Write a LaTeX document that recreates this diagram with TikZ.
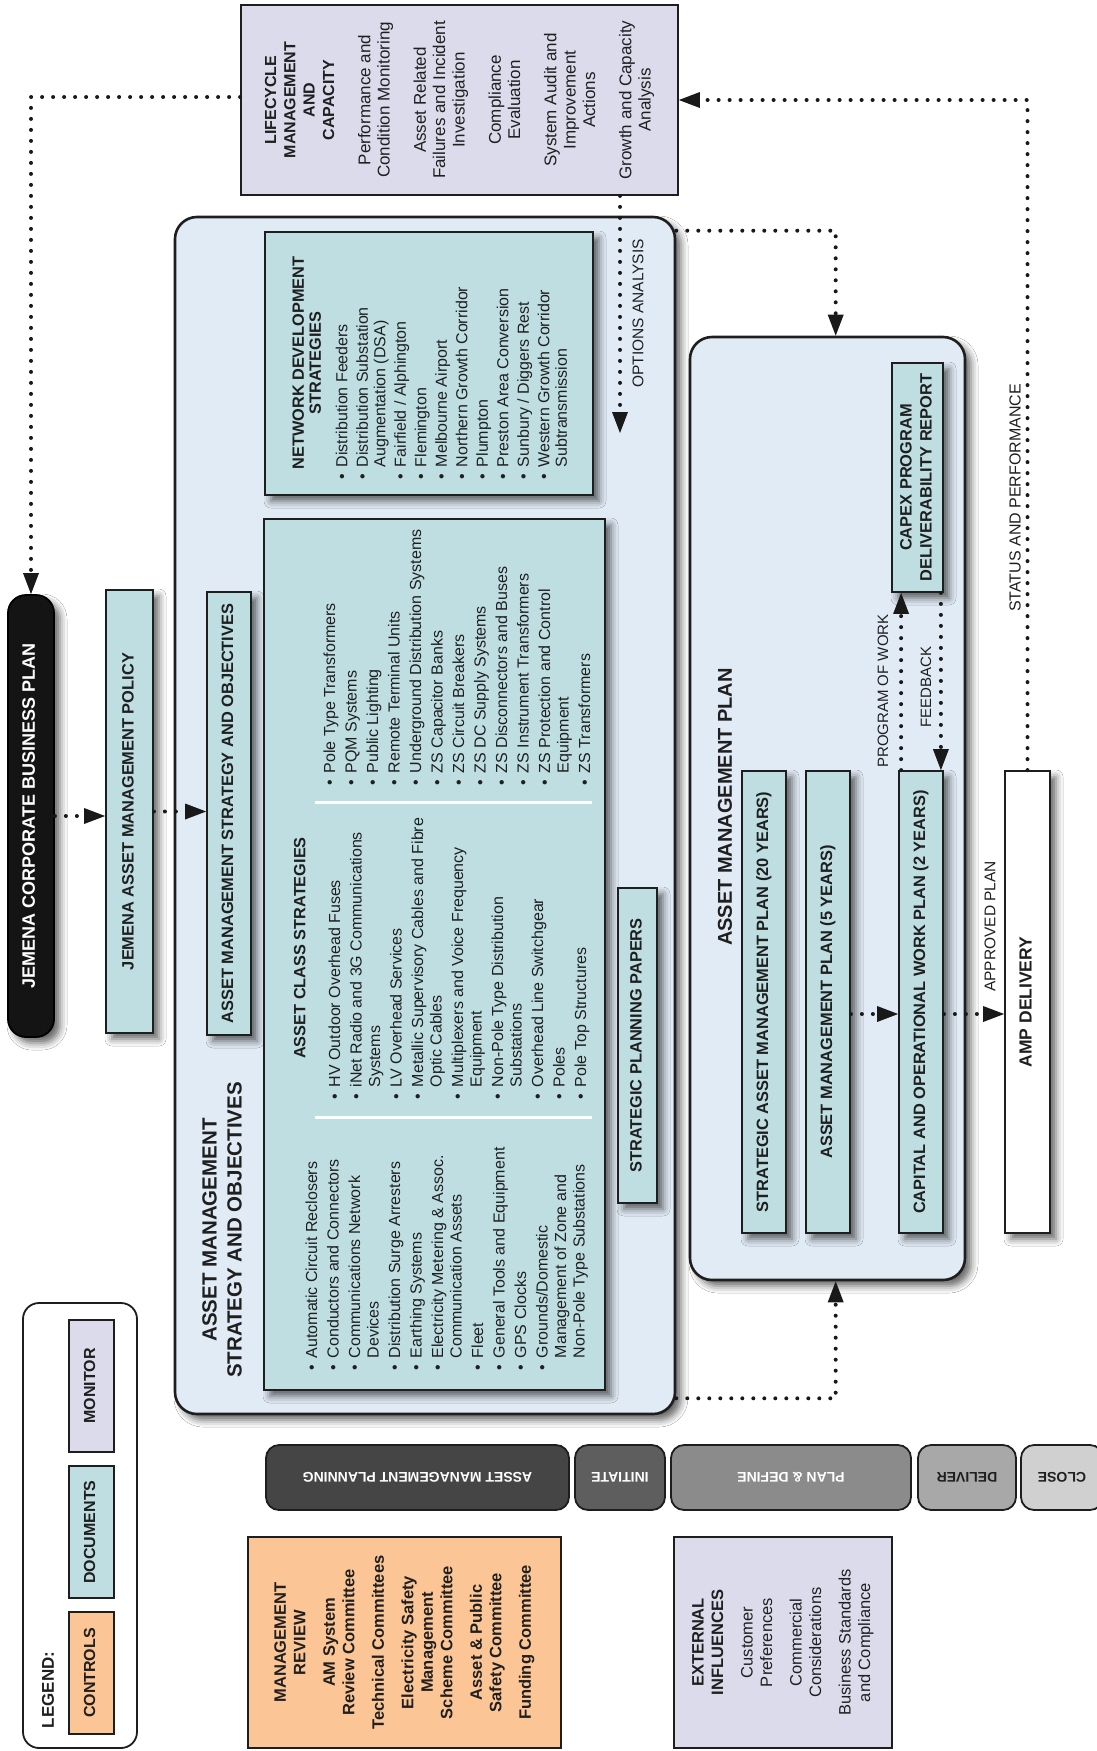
\documentclass[tikz,border=0pt]{standalone}
\usepackage{fontspec}
\setmainfont{Liberation Sans}
\usepackage{graphicx}
\usetikzlibrary{arrows.meta,shadows.blur,calc}
\definecolor{docteal}{HTML}{BEDEE2}
\definecolor{contblue}{HTML}{E1EBF5}
\definecolor{monpurple}{HTML}{DCDBEC}
\definecolor{ctrlorange}{HTML}{FCC596}
\definecolor{edgec}{HTML}{1E1E1E}
\definecolor{phA}{HTML}{454545}
\definecolor{phB}{HTML}{5E5E5E}
\definecolor{phC}{HTML}{8B8B8B}
\definecolor{phD}{HTML}{A8A8A8}
\definecolor{phE}{HTML}{D0D0D0}
\newcommand{\rtx}[1]{\rotatebox{90}{\begin{tabular}{@{}c@{}}#1\end{tabular}}}
\newcommand{\rlist}[1]{\rotatebox{90}{\begin{tabular}{@{}l@{\hspace{7pt}}l@{}}#1\end{tabular}}}
\newcommand{\rflip}[1]{\rotatebox{180}{#1}}
\newcommand{\bul}{\textbullet}
\begin{document}
\begin{tikzpicture}[x=1pt,y=-1pt,
  shad/.style={blur shadow={shadow xshift=6pt,shadow yshift=-6pt,shadow blur radius=7pt,shadow opacity=60}},
  docbox/.style={draw=edgec,line width=1.8pt,fill=docteal,inner sep=0pt,shad,text=black!88,font=\bfseries\fontsize{16.4}{20}\selectfont},
  contbox/.style={draw=edgec,line width=2.6pt,fill=contblue,rounded corners=22pt,inner sep=0pt,shad},
  corpbox/.style={draw=black,line width=1.8pt,fill=black!92,rounded corners=18pt,inner sep=0pt,shad,text=white,font=\bfseries\fontsize{18}{20}\selectfont},
  monbox/.style={draw=edgec,line width=1.8pt,fill=monpurple,inner sep=0pt,text=black!88},
  ctrlbox/.style={draw=edgec,line width=1.8pt,fill=ctrlorange,inner sep=0pt,text=black!88},
  phasebox/.style={draw=edgec,line width=1.8pt,rounded corners=13pt,inner sep=0pt,minimum height=65pt,font=\bfseries\fontsize{14}{18}\selectfont},
  swatch/.style={draw=edgec,line width=1.6pt,inner sep=0pt,minimum width=45pt,text=black!88,font=\bfseries\fontsize{16}{18}\selectfont},
  listtext/.style={inner sep=0pt,text=black!88,font=\fontsize{16}{18.5}\selectfont},
  titletext/.style={inner sep=0pt,text=black!88,font=\bfseries\fontsize{16.3}{17}\selectfont},
  lbl/.style={inner sep=0pt,text=black!88,font=\fontsize{15.5}{18}\selectfont},
  dotl/.style={draw=black!90,line width=4pt,line cap=round,dash pattern=on 0pt off 11pt},
  arr/.style={dotl,-{Triangle[length=21pt,width=16pt,line width=0pt]}}
]
\fill[white] (0,0) rectangle (1097,1751);
\useasboundingbox (0,0) rectangle (1097,1751);

% monitor box (top)
\node[monbox,minimum width=437pt,minimum height=190pt,font=\fontsize{17}{19.3}\selectfont] (lcm) at (459.5,100)
 {\rtx{{\bfseries\fontsize{16}{19.3}\selectfont LIFECYCLE}\\ {\bfseries\fontsize{16}{19.3}\selectfont MANAGEMENT}\\ {\bfseries\fontsize{16}{19.3}\selectfont AND}\\ {\bfseries\fontsize{16}{19.3}\selectfont CAPACITY}\\[17pt]
 Performance and\\ Condition Monitoring\\[17pt]
 Asset Related\\ Failures and Incident\\ Investigation\\[17pt]
 Compliance\\ Evaluation\\[17pt]
 System Audit and\\ Improvement\\ Actions\\[17pt]
 Growth and Capacity\\ Analysis}};

% left column
\node[corpbox,minimum width=46pt,minimum height=442pt] (corp) at (31,816) {\rtx{JEMENA CORPORATE BUSINESS PLAN}};
\node[docbox,minimum width=47pt,minimum height=443pt] (pol) at (129.5,811.5) {\rtx{JEMENA ASSET MANAGEMENT POLICY}};

% strategy container
\node[contbox,minimum width=500pt,minimum height=1197pt] (amso) at (425,815.5) {};
\node[docbox,minimum width=44pt,minimum height=443pt] (amsobj) at (229,813.5) {\rtx{ASSET MANAGEMENT STRATEGY AND OBJECTIVES}};
\node[inner sep=0pt,text=black!88,font=\bfseries\fontsize{20.5}{25}\selectfont] (amsot) at (224,1230) {\rtx{ASSET MANAGEMENT\\ STRATEGY AND OBJECTIVES}};

% network development strategies
\node[docbox,minimum width=328pt,minimum height=263pt] (nds) at (429,363.5) {};
\node[titletext] (ndst) at (309,363) {\rtx{NETWORK DEVELOPMENT\\ STRATEGIES}};
\node[listtext,font=\fontsize{16}{17.5}\selectfont,anchor=south west] (ndsl) at (335,480)
 {\rlist{\bul & Distribution Feeders\\[3pt] \bul & Distribution Substation\\ & Augmentation (DSA)\\[3pt] \bul & Fairfield / Alphington\\[3pt] \bul & Flemington\\[3pt] \bul & Melbourne Airport\\[3pt] \bul & Northern Growth Corridor\\[3pt] \bul & Plumpton\\[3pt] \bul & Preston Area Conversion\\[3pt] \bul & Sunbury / Diggers Rest\\[3pt] \bul & Western Growth Corridor\\ & Subtransmission}};

% asset class strategies
\node[docbox,minimum width=341pt,minimum height=871pt] (acs) at (434.5,954.5) {};
\node[titletext] (acst) at (302,948) {\rtx{ASSET CLASS STRATEGIES}};
\draw[white,line width=3pt] (315,802) -- (592,802);
\draw[white,line width=3pt] (315,1117) -- (592,1117);
\node[listtext,anchor=south west] (acsa) at (304,1371)
 {\rlist{\bul & Automatic Circuit Reclosers\\[3pt] \bul & Conductors and Connectors\\[3pt] \bul & Communications Network\\ & Devices\\[3pt] \bul & Distribution Surge Arresters\\[3pt] \bul & Earthing Systems\\[3pt] \bul & Electricity Metering \& Assoc.\\ & Communication Assets\\[3pt] \bul & Fleet\\[3pt] \bul & General Tools and Equipment\\[3pt] \bul & GPS Clocks\\[3pt] \bul & Grounds/Domestic\\ & Management of Zone and\\ & Non-Pole Type Substations}};
\node[listtext,anchor=south west] (acsb) at (327,1100)
 {\rlist{\bul & HV Outdoor Overhead Fuses\\[3pt] \bul & iNet Radio and 3G Communications\\ & Systems\\[3pt] \bul & LV Overhead Services\\[3pt] \bul & Metallic Supervisory Cables and Fibre\\ & Optic Cables\\[3pt] \bul & Multiplexers and Voice Frequency\\ & Equipment\\[3pt] \bul & Non-Pole Type Distribution\\ & Substations\\[3pt] \bul & Overhead Line Switchgear\\[3pt] \bul & Poles\\[3pt] \bul & Pole Top Structures}};
\node[listtext,anchor=south west] (acsc) at (322,786)
 {\rlist{\bul & Pole Type Transformers\\[3pt] \bul & PQM Systems\\[3pt] \bul & Public Lighting\\[3pt] \bul & Remote Terminal Units\\[3pt] \bul & Underground Distribution Systems\\[3pt] \bul & ZS Capacitor Banks\\[3pt] \bul & ZS Circuit Breakers\\[3pt] \bul & ZS DC Supply Systems\\[3pt] \bul & ZS Disconnectors and Buses\\[3pt] \bul & ZS Instrument Transformers\\[3pt] \bul & ZS Protection and Control\\ & Equipment\\[3pt] \bul & ZS Transformers}};
\node[docbox,minimum width=39pt,minimum height=315pt] (spp) at (637.5,1045.5) {\rtx{STRATEGIC PLANNING PAPERS}};

% asset management plan container
\node[contbox,minimum width=275pt,minimum height=943pt] (ampc) at (827.5,808.5) {};
\node[inner sep=0pt,text=black!88,font=\bfseries\fontsize{20}{24}\selectfont] (ampt) at (727,807) {\rtx{ASSET MANAGEMENT PLAN}};
\node[docbox,minimum width=51pt,minimum height=229pt] (capex) at (917.5,477.5) {\rtx{CAPEX PROGRAM\\ DELIVERABILITY REPORT}};
\node[docbox,minimum width=44pt,minimum height=462pt] (samp) at (764,1002) {\rtx{STRATEGIC ASSET MANAGEMENT PLAN (20 YEARS)}};
\node[docbox,minimum width=44pt,minimum height=462pt] (amp5) at (828,1002) {\rtx{ASSET MANAGEMENT PLAN (5 YEARS)}};
\node[docbox,minimum width=44pt,minimum height=462pt] (cwp) at (921,1002) {\rtx{CAPITAL AND OPERATIONAL WORK PLAN (2 YEARS)}};
\node[docbox,fill=white,minimum width=45pt,minimum height=462pt,font=\bfseries\fontsize{17.5}{20}\selectfont] (deliv) at (1027.5,1002) {\rtx{AMP DELIVERY}};

% phase bar
\node[phasebox,fill=phA,text=white,minimum width=303pt] (pamp) at (417.5,1477.5) {\rflip{ASSET MANAGEMENT PLANNING}};
\node[phasebox,fill=phB,text=white,minimum width=90pt] (pinit) at (620,1477.5) {\rflip{INITIATE}};
\node[phasebox,fill=phC,text=white,minimum width=240pt] (pdef) at (791,1477.5) {\rflip{PLAN \& DEFINE}};
\node[phasebox,fill=phD,text=black!88,minimum width=98pt] (pdel) at (967,1477.5) {\rflip{DELIVER}};
\node[phasebox,fill=phE,text=black!88,minimum width=82pt] (pclose) at (1062,1477.5) {\rflip{CLOSE}};

% legend
\node[draw=edgec,line width=1.8pt,fill=white,rounded corners=16pt,minimum width=114pt,minimum height=445pt,inner sep=0pt] (leg) at (80,1525.5) {};
\node[inner sep=0pt,text=black!88,font=\bfseries\fontsize{17}{20}\selectfont] (legt) at (50,1690) {\rtx{LEGEND:}};
\node[swatch,fill=ctrlorange,minimum height=122pt] (lc) at (91.5,1673) {\rtx{CONTROLS}};
\node[swatch,fill=docteal,minimum height=132pt] (ld) at (91.5,1532) {\rtx{DOCUMENTS}};
\node[swatch,fill=monpurple,minimum height=132pt] (lm) at (91.5,1386) {\rtx{MONITOR}};

% bottom boxes
\node[ctrlbox,minimum width=313pt,minimum height=211pt,font=\bfseries\fontsize{16.5}{19.5}\selectfont] (mgmt) at (404.5,1642.5)
 {\rtx{MANAGEMENT\\ REVIEW\\[10pt] AM System\\ Review Committee\\[10pt] Technical Committees\\[10pt] Electricity Safety\\ Management\\ Scheme Committee\\[10pt] Asset \& Public\\ Safety Committee\\[10pt] Funding Committee}};
\node[monbox,minimum width=218pt,minimum height=211pt,font=\fontsize{16.5}{19.5}\selectfont] (ext) at (783,1642.5)
 {\rtx{\textbf{EXTERNAL}\\ \textbf{INFLUENCES}\\[10pt] Customer\\ Preferences\\[10pt] Commercial\\ Considerations\\[10pt] Business Standards\\ and Compliance}};

% connectors
\coordinate (oa) at (620,433);
\draw[arr] ([yshift=3pt]lcm.west) -| (corp.north);
\draw[arr] (deliv.north) |- (lcm.east);
\draw[arr] (lcm.south -| oa) -- (oa);
\draw[arr] ([yshift=-15pt]amso.north east) -| ([xshift=147pt]ampc.north west);
\draw[arr] ([yshift=17pt]amso.south east) -| ([xshift=147pt]ampc.south west);
\draw[arr] (corp.east) -- (corp.east -| pol.west);
\draw[arr] (pol.east) -- (pol.east -| amsobj.west);
\draw[arr] ([yshift=-12pt]amp5.east) -- ([yshift=-12pt]amp5.east -| cwp.west);
\draw[arr] ([yshift=-12pt]cwp.east) -- ([yshift=-12pt]cwp.east -| deliv.west);
\draw[arr] ([xshift=3pt]cwp.north west) -- ([xshift=3pt]cwp.north west |- capex.south);
\draw[arr] ([xshift=-3pt]capex.south east) -- ([xshift=-3pt]capex.south east |- cwp.north);

% connector labels
\node[lbl,anchor=south] (oal) at (638,388) {\rotatebox{90}{OPTIONS ANALYSIS}};
\node[lbl,anchor=south,font=\fontsize{16}{18}\selectfont] (spl) at (1015,612) {\rotatebox{90}{STATUS AND PERFORMANCE}};
\node[lbl,anchor=south,font=\fontsize{15}{18}\selectfont] (pwl) at (883,768) {\rotatebox{90}{PROGRAM OF WORK}};
\node[lbl,font=\fontsize{15}{18}\selectfont] (fbl) at (926,687) {\rotatebox{90}{FEEDBACK}};
\node[lbl,anchor=south] (apl) at (990,992) {\rotatebox{90}{APPROVED PLAN}};
\end{tikzpicture}
\end{document}
